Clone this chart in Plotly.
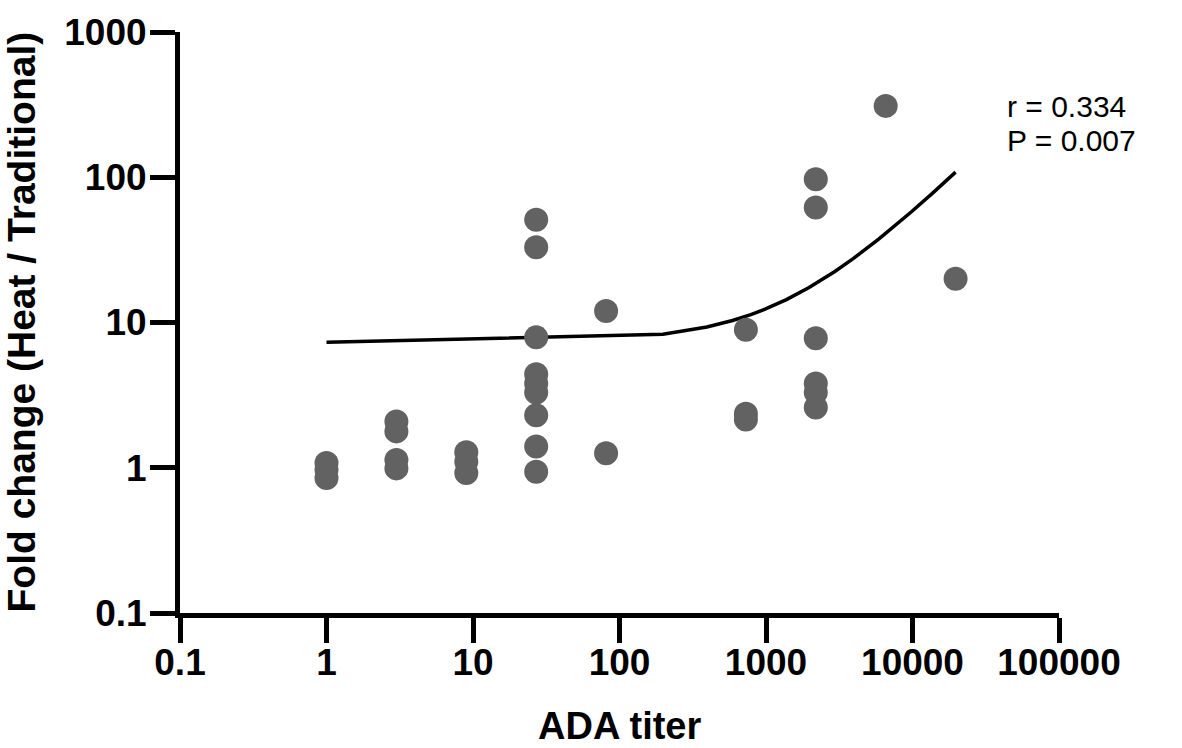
import plotly.graph_objects as go

# ADA titer (x) and fold change (y)
titer = [1, 1, 1,
         3, 3, 3, 3,
         9, 9, 9,
         27, 27, 27, 27, 27, 27, 27, 27, 27,
         81, 81,
         729, 729, 729,
         2187, 2187, 2187, 2187, 2187, 2187,
         6561,
         19683]
fold_change = [1.08, 0.97, 0.85,
               2.08, 1.78, 1.13, 0.99,
               1.28, 1.10, 0.92,
               51, 33, 7.9, 4.4, 3.8, 3.3, 2.3, 1.4, 0.94,
               12, 1.26,
               8.9, 2.35, 2.15,
               97, 62, 7.8, 3.8, 3.3, 2.6,
               310,
               20]

# regression line as drawn in the picture
fit_titer = [1, 198, 395, 591, 788, 985, 1378, 1968, 2952, 3936, 5904, 7872, 9841, 13777, 19683]
fit_fold = [7.30, 8.31, 9.32, 10.33, 11.34, 12.35, 14.37, 17.41, 22.46, 27.52, 37.64, 47.75, 57.87, 78.10, 108.5]

x_ticks = [0.1, 1, 10, 100, 1000, 10000, 100000]
x_tick_text = ["0.1", "1", "10", "100", "1000", "10000", "100000"]
y_ticks = [0.1, 1, 10, 100, 1000]
y_tick_text = ["0.1", "1", "10", "100", "1000"]

FONT = "Liberation Sans, Arial, Helvetica, sans-serif"

fig = go.Figure()
fig.add_trace(go.Scatter(
    x=fit_titer, y=fit_fold, mode="lines",
    line=dict(color="black", width=3.5),
    hoverinfo="skip", showlegend=False))
fig.add_trace(go.Scatter(
    x=titer, y=fold_change, mode="markers",
    marker=dict(size=24, color="#626262", line=dict(width=0)),
    showlegend=False))

axis_common = dict(
    type="log", showgrid=False, zeroline=False,
    showline=True, linecolor="black", linewidth=5,
    ticks="outside", ticklen=25, tickwidth=5, tickcolor="black",
    tickfont=dict(family=FONT, size=37, color="black", weight="bold"),
)

fig.update_xaxes(range=[-1, 5], tickvals=x_ticks, ticktext=x_tick_text,
                 ticklabelstandoff=-12, **axis_common)
fig.update_yaxes(range=[-1, 3], tickvals=y_ticks, ticktext=y_tick_text,
                 ticklabelstandoff=-4, **axis_common)

fig.add_annotation(text="ADA titer", xref="paper", yref="paper",
                   x=0.5, y=-0.195, xanchor="center", yanchor="middle", showarrow=False,
                   font=dict(family=FONT, size=38, color="black", weight="bold"))
fig.add_annotation(text="Fold change (Heat / Traditional)", xref="paper", yref="paper",
                   x=-0.1803, y=0.5009, xanchor="center", yanchor="middle", textangle=-90,
                   showarrow=False,
                   font=dict(family=FONT, size=39, color="black", weight="bold"))
fig.add_annotation(text="r = 0.334", xref="paper", yref="paper",
                   x=0.9386, y=0.8722, xanchor="left", yanchor="middle", showarrow=False,
                   font=dict(family=FONT, size=30, color="black"))
fig.add_annotation(text="P = 0.007", xref="paper", yref="paper",
                   x=0.9386, y=0.8139, xanchor="left", yanchor="middle", showarrow=False,
                   font=dict(family=FONT, size=30, color="black"))

fig.update_layout(
    width=1182, height=748,
    margin=dict(l=180, r=123, t=30, b=135),
    paper_bgcolor="white", plot_bgcolor="white",
    font=dict(family=FONT, color="black"),
)

fig.write_html("out.html", config={"displayModeBar": False},
               post_script="document.body.style.margin='0';")
